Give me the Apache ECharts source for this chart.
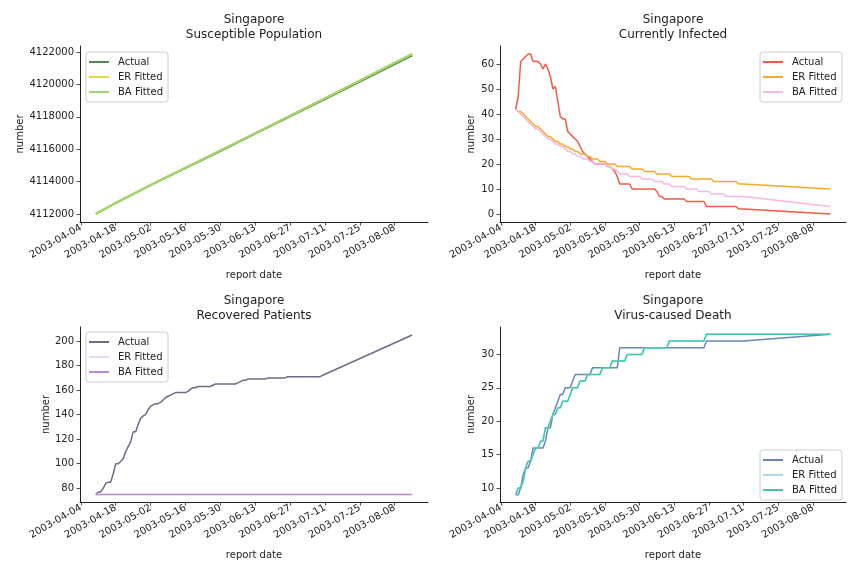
<!DOCTYPE html>
<html><head><meta charset="utf-8">
<script src="https://cdn.jsdelivr.net/npm/echarts@6/dist/echarts.min.js"></script>
<style>html,body{margin:0;padding:0;background:#fff}#c{width:864px;height:576px}</style>
</head><body><div id="c"></div>
<script>
// ---------- data ----------
const dates = [
 '2003-04-10','2003-04-11','2003-04-12','2003-04-13','2003-04-14','2003-04-15','2003-04-16','2003-04-17','2003-04-18','2003-04-19',
 '2003-04-20','2003-04-21','2003-04-22','2003-04-23','2003-04-24','2003-04-25','2003-04-26','2003-04-27','2003-04-28','2003-04-29',
 '2003-04-30','2003-05-01','2003-05-02','2003-05-03','2003-05-04','2003-05-05','2003-05-06','2003-05-07','2003-05-08','2003-05-09',
 '2003-05-10','2003-05-11','2003-05-12','2003-05-13','2003-05-14','2003-05-15','2003-05-16','2003-05-17','2003-05-18','2003-05-19',
 '2003-05-20','2003-05-21','2003-05-22','2003-05-23','2003-05-24','2003-05-25','2003-05-26','2003-05-27','2003-05-28','2003-05-29',
 '2003-05-30','2003-05-31','2003-06-01','2003-06-02','2003-06-03','2003-06-04','2003-06-05','2003-06-06','2003-06-07','2003-06-08',
 '2003-06-09','2003-06-10','2003-06-11','2003-06-12','2003-06-13','2003-06-14','2003-06-15','2003-06-16','2003-06-17','2003-06-18',
 '2003-06-19','2003-06-20','2003-06-21','2003-06-22','2003-06-23','2003-06-24','2003-06-25','2003-06-26','2003-06-27','2003-06-28',
 '2003-06-29','2003-06-30','2003-07-01','2003-07-02','2003-07-03','2003-07-04','2003-07-05','2003-07-06','2003-07-07','2003-07-08',
 '2003-07-09','2003-07-10','2003-07-11','2003-08-15'
];
const susDates = ['2003-04-10','2003-04-18','2003-05-02','2003-05-16','2003-05-30','2003-06-13','2003-06-27','2003-07-11','2003-08-15'];
const susActual = [4112000,4112680,4113780,4114840,4115890,4116960,4118030,4119090,4121790];
const susER     = [4112000,4112690,4113800,4114870,4115930,4117000,4118080,4119150,4121890];
const susBA     = [4112000,4112690,4113800,4114870,4115930,4117000,4118080,4119150,4121890];

const infActual = [42,47,61,62,63,64,64,61,61,61, 60,58,60,58,55,50,51,45,39,38,
 38,33,32,31,30,29,27,25,24,23, 22,21,20,20,20,20,20,19,19,18, 17,15,12,12,12,12,12,10,10,10,
 10,10,10,10,10,10,10,9,7,7, 6,6,6,6,6,6,6,6,6,5, 5,5,5,5,5,5,5,3,3,3, 3,3,3,3,3,3,3,3,3,3, 2,2,2, 0];
const infER = [42,41,41,40,39,38,37,36,35,35, 34,33,32,31,31,30,29,29,28,28,
 27,27,26,26,25,25,24,24,24,23, 23,22,22,22,21,21,21,20,20,20, 20,19,19,19,19,19,19,18,18,18,
 18,18,17,17,17,17,17,16,16,16, 16,16,16,15,15,15,15,15,15,15, 15,14,14,14,14,14,14,14,14,14,
 13,13,13,13,13,13,13,13,13,13, 12,12,12, 10];
const infBA = [42,41,40,39,38,37,36,35,34,34, 33,32,31,30,30,29,28,28,27,27,
 26,25,25,24,24,23,23,22,22,22, 21,21,20,20,20,20,20,19,19,18, 18,17,16,16,16,16,15,15,15,15,
 15,14,14,14,14,14,13,13,13,13, 12,12,12,11,11,11,11,11,11,10, 10,10,10,10,9,9,9,9,9,8,
 8,8,8,8,8,7,7,7,7,7, 7,7,7, 3];

const recActual = [75,77,77,80,84,85,85,92,100,100, 102,104,110,114,118,126,126,132,137,139,
 140,144,147,148,149,149,150,152,154,155, 156,157,158,158,158,158,158,159,161,162, 162,163,163,163,163,163,163,164,165,165,
 165,165,165,165,165,165,165,166,167,168, 168,169,169,169,169,169,169,169,169,170, 170,170,170,170,170,170,170,171,171,171,
 171,171,171,171,171,171,171,171,171,171, 171,172,173, 205];
const recER = [75,75,75,75,75,75,75,75,75,75, 75,75,75,75,75,75,75,75,75,75,
 75,75,75,75,75,75,75,75,75,75, 75,75,75,75,75,75,75,75,75,75, 75,75,75,75,75,75,75,75,75,75,
 75,75,75,75,75,75,75,75,75,75, 75,75,75,75,75,75,75,75,75,75, 75,75,75,75,75,75,75,75,75,75,
 75,75,75,75,75,75,75,75,75,75, 75,75,75, 75];
const recBA = [75,75,75,75,75,75,75,75,75,75, 75,75,75,75,75,75,75,75,75,75,
 75,75,75,75,75,75,75,75,75,75, 75,75,75,75,75,75,75,75,75,75, 75,75,75,75,75,75,75,75,75,75,
 75,75,75,75,75,75,75,75,75,75, 75,75,75,75,75,75,75,75,75,75, 75,75,75,75,75,75,75,75,75,75,
 75,75,75,75,75,75,75,75,75,75, 75,75,75, 75];

const deathActual = [9,9,10,12,13,13,14,16,16,16, 16,16,17,19,19,21,22,23,24,24,
 25,25,25,26,27,27,27,27,27,27, 27,28,28,28,28,28,28,28,28,28, 28,28,31,31,31,31,31,31,31,31,
 31,31,31,31,31,31,31,31,31,31, 31,31,31,31,31,31,31,31,31,31, 31,31,31,31,31,31,31,32,32,32,
 32,32,32,32,32,32,32,32,32,32, 32,32,32, 33];
const deathER = [9,10,10,11,13,14,14,15,16,16, 17,17,19,19,20,21,21,22,22,23,
 23,23,24,25,25,25,26,26,26,27, 27,27,27,27,27,28,28,28,28,29, 29,29,29,29,29,30,30,30,30,30,
 30,30,31,31,31,31,31,31,31,31, 31,31,32,32,32,32,32,32,32,32, 32,32,32,32,32,32,32,33,33,33,
 33,33,33,33,33,33,33,33,33,33, 33,33,33, 33];
const deathBA = [9,10,10,11,13,14,14,15,16,16, 17,17,19,19,20,21,21,22,22,23,
 23,23,24,25,25,25,26,26,26,27, 27,27,27,27,27,28,28,28,28,29, 29,29,29,29,29,30,30,30,30,30,
 30,30,31,31,31,31,31,31,31,31, 31,31,32,32,32,32,32,32,32,32, 32,32,32,32,32,32,32,33,33,33,
 33,33,33,33,33,33,33,33,33,33, 33,33,33, 33];

const xTicks = ['2003-04-04','2003-04-18','2003-05-02','2003-05-16','2003-05-30','2003-06-13','2003-06-27','2003-07-11','2003-07-25','2003-08-08'];
const susTicks = [4112000,4114000,4116000,4118000,4120000,4122000];
const infTicks = [0,10,20,30,40,50,60];
const recTicks = [80,100,120,140,160,180,200];
const deathTicks = [10,15,20,25,30];
const seriesNames = ['Actual','ER Fitted','BA Fitted'];
const titles = ['Singapore\nSusceptible Population','Singapore\nCurrently Infected','Singapore\nRecovered Patients','Singapore\nVirus-caused Death'];

// ---------- helpers ----------
function toTime(s){
  const m = s.match(/(\d+)-(\d+)-(\d+)(?: (\d+):(\d+))?/);
  return Date.UTC(+m[1], +m[2]-1, +m[3], +(m[4]||0), +(m[5]||0));
}
function fmt(v){
  const d = new Date(Math.round(v));
  const p = n => (n<10?'0':'')+n;
  return d.getUTCFullYear()+'-'+p(d.getUTCMonth()+1)+'-'+p(d.getUTCDate());
}
function pairs(ds, vs){ return ds.map((d,i)=>[toTime(d), vs[i]]); }

const FONT = 'DejaVu Sans';
const TXT = '#222';
const xTickTimes = xTicks.map(toTime);
const xMin = toTime('2003-04-03 15:36');
const xMax = toTime('2003-08-21 08:24');

const panels = [
  {grid:{left:80,top:46,width:348,height:176}, tx:254, ty:13, yMin:4111506, yMax:4122374, yTicks:susTicks, yGap:54,
   legend:{left:86,top:52},
   series:[[susDates,susActual,'#508a50',2],[susDates,susER,'#e2d84e',2],[susDates,susBA,'#a0d86e',2]]},
  {grid:{left:500,top:46,width:346,height:176}, tx:673, ty:13, yMin:-3.2, yMax:67.2, yTicks:infTicks, yGap:24,
   legend:{left:760,top:52},
   series:[[dates,infActual,'#f25a45',1.5],[dates,infER,'#f9a630',1.5],[dates,infBA,'#fbb6e0',1.5]]},
  {grid:{left:80,top:327,width:348,height:175}, tx:254, ty:294, yMin:68.8, yMax:211.5, yTicks:recTicks, yGap:29,
   legend:{left:86,top:332},
   series:[[dates,recActual,'#6f6a85',1.5],[dates,recER,'#ecd8f0',1.5],[dates,recBA,'#bb88d2',1.5]]},
  {grid:{left:500,top:327,width:346,height:175}, tx:673, ty:294, yMin:7.9, yMax:34.1, yTicks:deathTicks, yGap:24,
   legend:{left:760,top:450},
   series:[[dates,deathActual,'#6a86b2',1.5],[dates,deathER,'#a9dde2',1.5],[dates,deathBA,'#3ec6b0',1.5]]}
];

const option = {animation:false, backgroundColor:'#fff', title:[], grid:[], xAxis:[], yAxis:[], legend:[], series:[]};
panels.forEach((p,k)=>{
  option.title.push({text:titles[k], left:p.tx, top:p.ty, textAlign:'center', padding:0,
    textStyle:{fontFamily:FONT, fontSize:12, fontWeight:'normal', color:TXT, lineHeight:14.4}});
  option.grid.push(Object.assign({containLabel:false}, p.grid));
  option.xAxis.push({type:'value', gridIndex:k, min:xMin, max:xMax, scale:true,
    name:'report date', nameLocation:'middle', nameGap:48,
    nameTextStyle:{fontFamily:FONT, fontSize:10, color:TXT},
    axisLine:{show:true, onZero:false, lineStyle:{color:TXT, width:1}},
    axisTick:{show:true, length:3.5, customValues:xTickTimes, lineStyle:{color:TXT, width:0.8}},
    axisLabel:{customValues:xTickTimes, formatter:fmt, rotate:30, margin:5, hideOverlap:false,
      fontFamily:FONT, fontSize:10, color:TXT},
    splitLine:{show:false}, minorTick:{show:false}});
  option.yAxis.push({type:'value', gridIndex:k, min:p.yMin, max:p.yMax, scale:true,
    name:'number', nameLocation:'middle', nameGap:p.yGap, nameRotate:90,
    nameTextStyle:{fontFamily:FONT, fontSize:10, color:TXT},
    axisLine:{show:true, onZero:false, lineStyle:{color:TXT, width:1}},
    axisTick:{show:true, length:3.5, customValues:p.yTicks, lineStyle:{color:TXT, width:0.8}},
    axisLabel:{customValues:p.yTicks, formatter:v=>String(v), margin:6, hideOverlap:false,
      fontFamily:FONT, fontSize:10, color:TXT},
    splitLine:{show:false}});
  const names = [];
  p.series.forEach((s,j)=>{
    const nm = 'p'+k+'|'+seriesNames[j];
    names.push(nm);
    option.series.push({type:'line', name:nm, xAxisIndex:k, yAxisIndex:k,
      data:pairs(s[0], s[1]), showSymbol:false, symbol:'none',
      lineStyle:{color:s[2], width:s[3]}, itemStyle:{color:s[2]}, z:2+j});
  });
  option.legend.push({data:names, orient:'vertical', left:p.legend.left, top:p.legend.top,
    icon:'rect', itemWidth:20, itemHeight:2, itemGap:3, padding:[4,5,4,3],
    borderColor:'#cccccc', borderWidth:1, borderRadius:3, backgroundColor:'rgba(255,255,255,0.8)',
    formatter:n=>n.split('|')[1],
    textStyle:{fontFamily:FONT, fontSize:10, color:TXT, lineHeight:12, padding:[0,0,0,4]}});
});

const chart = echarts.init(document.getElementById('c'), null, {renderer:'canvas'});
chart.setOption(option);
</script>
</body></html>
